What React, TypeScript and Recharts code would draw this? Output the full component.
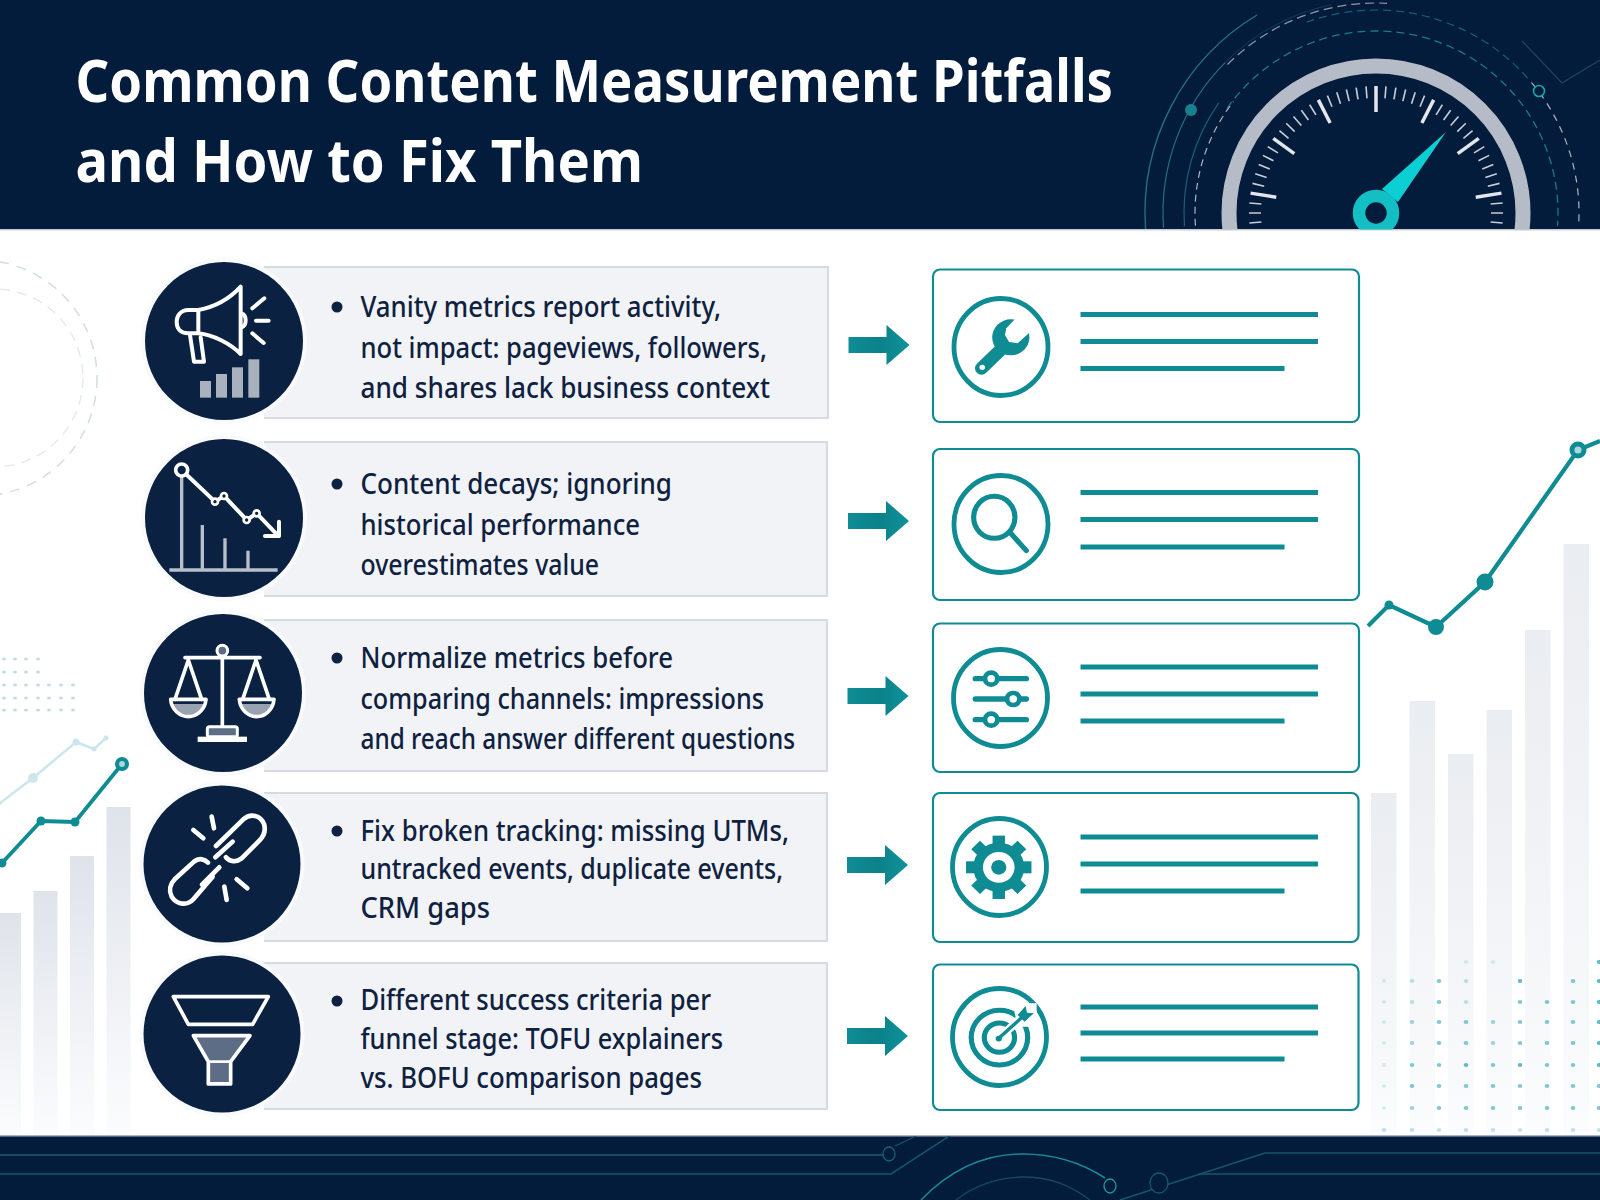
import React from "react";
import { BarChart, Bar, LineChart, Line, XAxis, YAxis } from "recharts";

const titleLines = ["Common Content Measurement Pitfalls", "and How to Fix Them"];
const pitfallLines = [
  ["Vanity metrics report activity,", "not impact: pageviews, followers,", "and shares lack business context"],
  ["Content decays; ignoring", "historical performance", "overestimates value"],
  ["Normalize metrics before", "comparing channels: impressions", "and reach answer different questions"],
  ["Fix broken tracking: missing UTMs,", "untracked events, duplicate events,", "CRM gaps"],
  ["Different success criteria per", "funnel stage: TOFU explainers", "vs. BOFU comparison pages"],
];

// background charts, values
const leftCats = ["a", "b", "c", "d"];
const leftBars = [222, 244, 279, 328];
const leftTrend = [{ x: 2, v: 272 }, { x: 41, v: 314 }, { x: 75, v: 313 }, { x: 122, v: 371 }];
const leftPale = [{ x: 0, v: 332 }, { x: 33, v: 357 }, { x: 76, v: 393 }, { x: 94, v: 386 }, { x: 106, v: 397 }];
const rightCats = ["a", "b", "c", "d", "e", "f"];
const rightBars = [342, 434, 381, 425, 505, 591];
const rightTrend = [{ x: 8, v: 509 }, { x: 29, v: 530 }, { x: 76, v: 508 }, { x: 125, v: 553 }, { x: 218, v: 685 }, { x: 240, v: 694 }];

const leftBarRows = leftCats.map((c, i) => ({ c, v: leftBars[i] }));
const rightBarRows = rightCats.map((c, i) => ({ c, v: rightBars[i] }));

const leftTrendR = [4.5, 4.5, 4.5, 7];
const leftPaleR = [2, 5, 3.5, 2.5, 2.5];
const rightTrendR = [0, 4.5, 8, 8.5, 8.5, 0];

const FONT = "'Noto Sans', sans-serif";
const NAVY = "#031c3c";
const CIRCLE = "#0a2142";
const TEAL = "#0e8b93";
const INK = "#0f2140";
const GREY = "#5c6d85";

const panels = [
  { top: 267, bottom: 418, right: 828, cx: 224, cy: 341, r: 79, bullet: 307, base: [317, 358, 398], ends: [721, 767, 770] },
  { top: 442, bottom: 596, right: 827, cx: 224, cy: 518, r: 79, bullet: 484, base: [493.5, 534.5, 574.5], ends: [672, 640, 599] },
  { top: 620, bottom: 771, right: 827, cx: 223, cy: 693, r: 79, bullet: 658, base: [667.5, 708.5, 748.5], ends: [673, 764, 795] },
  { top: 793, bottom: 941, right: 827, cx: 222, cy: 864, r: 78.5, bullet: 831, base: [841, 879, 917.5], ends: [789, 783, 490] },
  { top: 963, bottom: 1109, right: 827, cx: 222, cy: 1034, r: 78.5, bullet: 1001, base: [1010, 1049, 1088], ends: [711, 723, 702] },
];
const cards = [
  { top: 269.5, bottom: 422, left: 933, right: 1359, cx: 1001, cy: 347, lines: [314.5, 341.5, 368.5], arrow: 345, tip: 909.5 },
  { top: 449, bottom: 600, left: 933, right: 1359, cx: 1001, cy: 524, lines: [492.5, 519.5, 547], arrow: 521, tip: 909 },
  { top: 623.5, bottom: 772, left: 933, right: 1359, cx: 1000.5, cy: 698, lines: [667, 694, 721], arrow: 696, tip: 908.5 },
  { top: 793, bottom: 942, left: 933, right: 1358.5, cx: 999.5, cy: 867, lines: [837, 864, 891], arrow: 865, tip: 908 },
  { top: 964.5, bottom: 1110, left: 933, right: 1358.5, cx: 999.5, cy: 1037, lines: [1007, 1033, 1059], arrow: 1036, tip: 908 },
];

const dotRows = [962, 981, 1002, 1022, 1043, 1065, 1086, 1108, 1130];
const dotCols = [1384, 1412, 1439, 1466, 1493, 1520, 1547, 1573, 1599];
const dotMask = ["000110005", "124205045", "124204445", "134434445", "134434445", "144545445", "144444444", "134444444", "222222222"];
const leftDotRows = [659, 672, 685, 698, 710];
const leftDotCols = [4, 15, 26, 38, 49, 61, 73];
const leftDotCounts = [4, 4, 7, 7, 7];

const polar = (r: number, deg: number) => {
  const a = (deg * Math.PI) / 180;
  return [1376 + r * Math.sin(a), 213 - r * Math.cos(a)];
};
const arc = (r: number, a0: number, a1: number) => {
  const [x0, y0] = polar(r, a0);
  const [x1, y1] = polar(r, a1);
  return `M${x0} ${y0} A${r} ${r} 0 ${a1 - a0 > 180 ? 1 : 0} 1 ${x1} ${y1}`;
};
const gaugeSteps = Array.from({ length: 45 }, (_, i) => i - 22);

function trendDot(radii: number[], color: string, inner?: number) {
  return (p: any) => {
    const r = radii[p.index] ?? 0;
    if (!r) return <g key={p.index} />;
    return (
      <g key={p.index}>
        <circle cx={p.cx} cy={p.cy} r={r} fill={color} />
        {inner === p.index && <circle cx={p.cx} cy={p.cy} r={r * 0.42} fill="#a9d9dc" />}
      </g>
    );
  };
}

function BarsLayer({ left, top, width, height, max, rows, size, id, from, to }: any) {
  return (
    <div style={{ position: "absolute", left, top, width, height }}>
      <BarChart width={width} height={height} data={rows} margin={{ top: 0, right: 0, bottom: 0, left: 0 }}>
        <defs>
          <linearGradient id={id} x1="0" y1="0" x2="0" y2="1">
            <stop offset="0" stopColor={from} />
            <stop offset="0.7" stopColor={to} />
            <stop offset="1" stopColor="#fbfcfd" />
          </linearGradient>
        </defs>
        <XAxis dataKey="c" hide />
        <YAxis hide domain={[0, max]} />
        <Bar dataKey="v" fill={`url(#${id})`} barSize={size} isAnimationActive={false} />
      </BarChart>
    </div>
  );
}

function TrendLayer({ left, top, width, height, max, rows, color, sw, dot }: any) {
  return (
    <div style={{ position: "absolute", left, top, width, height }}>
      <LineChart width={width} height={height} data={rows} margin={{ top: 0, right: 0, bottom: 0, left: 0 }}>
        <XAxis dataKey="x" type="number" domain={[0, width]} hide />
        <YAxis hide domain={[0, max]} />
        <Line dataKey="v" type="linear" stroke={color} strokeWidth={sw} dot={dot} activeDot={false} isAnimationActive={false} />
      </LineChart>
    </div>
  );
}

function Header() {
  return (
    <g>
      <defs>
        <clipPath id="headClip"><rect x="0" y="0" width="1600" height="229.5" /></clipPath>
      </defs>
      <rect x="0" y="0" width="1600" height="229.5" fill={NAVY} />
      <rect x="0" y="229" width="1600" height="1.5" fill="#c9ced6" />
      <g clipPath="url(#headClip)" fill="none">
        <path d={arc(231, -94, -31)} stroke="#25707f" strokeWidth="1.4" />
        <path d={arc(213, -94, -45)} stroke="#25707f" strokeWidth="1.2" />
        <path d={arc(213, -45, -12)} stroke="#0f3554" strokeWidth="1.1" />
        <path d={arc(192, -94, -55)} stroke="#1a5f78" strokeWidth="1.2" />
        <path d={arc(181, -94, -52)} stroke="#aeb6c2" strokeWidth="1.2" strokeDasharray="7 5" />
        <path d={arc(210, -45, 3)} stroke="#8e9aa8" strokeWidth="1.2" strokeDasharray="9 5" />
        <path d={arc(182, -55, 94)} stroke="#1a7a8c" strokeWidth="1.3" strokeDasharray="8 5" />
        <path d={arc(203, -20, 50)} stroke="#175f78" strokeWidth="1.2" strokeDasharray="8 5" />
        <path d={arc(203, 50, 94)} stroke="#aeb6c2" strokeWidth="1.2" strokeDasharray="7 6" />
        <path d="M1522 41 L1562 83 L1600 60" stroke="#1e4560" strokeWidth="1.3" />
        <circle cx="1191" cy="110" r="6" fill="#17808f" />
        <circle cx="1539" cy="91" r="5.5" fill={NAVY} stroke="#19a5ad" strokeWidth="1.6" />
        <circle cx="1376" cy="213" r="147" stroke="#b5bcc7" strokeWidth="15" />
        {gaugeSteps.map((s) => {
          const major = s % 6 === 0;
          const [x0, y0] = polar(127, s * 4.5);
          const [x1, y1] = polar(major ? 101 : 115, s * 4.5);
          return <line key={s} x1={x0} y1={y0} x2={x1} y2={y1} stroke={major ? "#e3e6ea" : "#c9ced6"} strokeWidth={major ? 3.5 : 1.6} />;
        })}
        <path d="M1382 189 L1446 132 L1398 202 Z" fill="#0bcfd3" />
        <circle cx="1376" cy="213" r="17" stroke="#14bfc4" strokeWidth="12.5" />
      </g>
      {titleLines.map((t, i) => (
        <text key={t} x="75.5" y={[102, 181.5][i]} fontFamily={FONT} fontWeight="700" fontSize="60" fill="#ffffff"
          textLength={[1037.5, 567.5][i]} lengthAdjust="spacingAndGlyphs">{t}</text>
      ))}
    </g>
  );
}

function Footer() {
  return (
    <g fill="none">
      <defs>
        <clipPath id="footClip"><rect x="0" y="1136" width="1600" height="64" /></clipPath>
      </defs>
      <rect x="0" y="1136" width="1600" height="64" fill={NAVY} />
      <rect x="0" y="1135" width="1600" height="1.5" fill="#aeb5c0" />
      <g clipPath="url(#footClip)">
        <path d="M0 1155 H883" stroke="#175f75" strokeWidth="1.5" />
        <path d="M0 1174 H891 L951 1135" stroke="#15566e" strokeWidth="1.5" />
        <path d="M895 1146 L918 1135" stroke="#15566e" strokeWidth="1.1" />
        <ellipse cx="889" cy="1154" rx="6" ry="7" stroke="#175f75" strokeWidth="1.3" />
        <path d="M1120 1200 L1265 1153 H1600" stroke="#15566e" strokeWidth="1.5" />
        <path d="M1199 1174 H1600" stroke="#15566e" strokeWidth="1.3" />
        <ellipse cx="1159" cy="1183" rx="9" ry="10" fill={NAVY} stroke="#15566e" strokeWidth="1.3" />
        <path d="M921 1200 C950 1170 985 1154 1023 1154 C1060 1154 1085 1165 1105 1178" stroke="#1a8a99" strokeWidth="1.5" />
        <path d="M956 1200 C975 1185 1000 1177 1023 1177 C1050 1177 1070 1185 1090 1200" stroke="#134a62" strokeWidth="1.3" />
        <ellipse cx="1110" cy="1186" rx="6" ry="7" fill={NAVY} stroke="#1a9aa6" strokeWidth="1.3" />
      </g>
    </g>
  );
}

const darkIcon = (i: number) => {
  const w = { fill: "none", stroke: "#ffffff", strokeLinecap: "round" as const, strokeLinejoin: "round" as const };
  if (i === 0) {
    return (
      <g transform="translate(130 250) scale(0.3333)">
        <g {...w} strokeWidth="12">
          <path d="M205 180 C260 170 300 145 332 110 L332 312 C300 280 250 255 205 250 Z" />
          <path d="M205 180 H175 C150 180 140 200 140 215 C140 235 150 250 175 250 H205" />
          <path d="M180 255 L192 335 H222 L212 262" />
          <path d="M335 190 C350 195 352 225 335 232" />
          <path d="M367 175 L403 145 M378 212 H416 M367 250 L401 279" />
        </g>
        {[[210, 393], [258, 372], [306, 352], [355, 328]].map(([x, y]) => (
          <rect key={x} x={x} y={y} width="33" height={443 - y} fill="#a9b1be" />
        ))}
      </g>
    );
  }
  if (i === 1) {
    return (
      <g transform="translate(130 250) scale(0.3333)">
        <path d="M118 960 H443 M155 680 V960 M217 825 V960 M285 865 V960 M354 902 V960" stroke="#b9bfca" strokeWidth="10" fill="none" />
        <g {...w} strokeWidth="12">
          <path d="M155 660 L255 755 L282 738 L350 810 L380 790 L445 858" />
          <path d="M405 858 H447 V815" />
        </g>
        {[[255, 755], [282, 738], [350, 810], [380, 790]].map(([x, y]) => (
          <circle key={x} cx={x} cy={y} r="9" fill={CIRCLE} stroke="#fff" strokeWidth="8" />
        ))}
        <circle cx="155" cy="660" r="18" fill={CIRCLE} stroke="#fff" strokeWidth="11" />
      </g>
    );
  }
  if (i === 2) {
    return (
      <g transform="translate(130 610) scale(0.3333)">
        <path d="M122 282 H228 C222 305 200 320 175 320 C150 320 128 305 122 282Z" fill="#98a2b0" />
        <path d="M328 282 H432 C426 305 405 320 380 320 C355 320 334 305 328 282Z" fill="#98a2b0" />
        <g {...w} strokeWidth="11">
          <path d="M277 130 V350 M165 143 H390" />
          <path d="M175 150 L135 268 M175 150 L215 268 M378 150 L338 268 M378 150 L418 268" />
          <path d="M122 268 H228 C225 300 200 320 175 320 C150 320 125 300 122 268Z" />
          <path d="M328 268 H432 C429 300 405 320 380 320 C355 320 331 300 328 268Z" />
        </g>
        <rect x="232" y="350" width="90" height="30" rx="6" fill={GREY} stroke="#fff" strokeWidth="9" />
        <rect x="203" y="380" width="148" height="16" fill="#fff" />
        <circle cx="277" cy="122" r="16" fill={GREY} stroke="#fff" strokeWidth="9" />
      </g>
    );
  }
  if (i === 3) {
    return (
      <g transform="translate(130 610) scale(0.3333)">
        <g {...w} strokeWidth="14">
          <path d="M258 708 L340 628 C362 608 392 616 402 642 C408 662 400 680 388 692 L335 745 C318 758 300 755 288 742" />
          <path d="M308 695 L256 742" />
          <path d="M248 800 L190 868 C172 888 140 885 125 860 C116 842 120 822 134 808 L192 755 C208 742 224 748 234 758" />
          <path d="M268 772 L216 824" />
          <path d="M245 620 L252 655 M190 660 L220 685 M283 830 L290 870 M320 808 L352 835" />
        </g>
      </g>
    );
  }
  return (
    <g transform="translate(130 610) scale(0.3333)">
      <path d="M130 1160 H415 L368 1243 H175 Z" fill="none" stroke="#fff" strokeWidth="11" strokeLinejoin="round" />
      <path d="M190 1277 H360 L302 1355 V1422 H235 V1355 Z" fill={GREY} stroke="#fff" strokeWidth="11" strokeLinejoin="round" />
      <path d="M235 1355 H302" stroke="#fff" strokeWidth="8" />
    </g>
  );
};

const tealIcon = (i: number) => {
  const t = "translate(830 260) scale(0.3444 0.3333)";
  const t2 = "translate(830 620) scale(0.3444 0.3333)";
  if (i === 0) {
    return (
      <g transform={t}>
        <path d="M440 325 L510 255" stroke={TEAL} strokeWidth="38" strokeLinecap="round" />
        <circle cx="525" cy="232" r="54" fill={TEAL} />
        <path d="M548 165 L598 200 L545 250 L520 246 L508 225 L512 205 Z" fill="#fff" />
        <circle cx="442" cy="322" r="8" fill="#fff" />
      </g>
    );
  }
  if (i === 1) {
    return (
      <g transform={t} fill="none" stroke={TEAL} strokeWidth="15" strokeLinecap="round">
        <ellipse cx="477" cy="772" rx="60" ry="63" />
        <path d="M525 820 L570 872" />
      </g>
    );
  }
  if (i === 2) {
    return (
      <g transform={t2}>
        {[[176, 468], [237, 532], [299, 468]].map(([y, x]) => (
          <g key={y}>
            <path d={`M422 ${y} H570`} stroke={TEAL} strokeWidth="16" strokeLinecap="round" />
            <ellipse cx={x} cy={y} rx="18" ry="18" fill="#fff" stroke={TEAL} strokeWidth="14" />
          </g>
        ))}
      </g>
    );
  }
  if (i === 3) {
    return (
      <g transform={t2}>
        {[0, 45, 90, 135].map((a) => (
          <g key={a} transform={`rotate(${a} 490 742)`}>
            <rect x="472" y="647" width="36" height="190" fill={TEAL} />
          </g>
        ))}
        <circle cx="490" cy="742" r="74" fill={TEAL} />
        <circle cx="490" cy="742" r="46" fill="#fff" />
        <circle cx="490" cy="742" r="22" fill={TEAL} />
      </g>
    );
  }
  return (
    <g transform={t2} fill="none">
      <circle cx="492" cy="1253" r="82" stroke={TEAL} strokeWidth="15" />
      <circle cx="492" cy="1253" r="44" stroke={TEAL} strokeWidth="15" />
      <path d="M530 1150 L600 1150 L600 1220 L545 1220 Z" fill="#fff" />
      <path d="M490 1255 L565 1185" stroke="#fff" strokeWidth="24" />
      <circle cx="490" cy="1256" r="9" fill={TEAL} />
      <path d="M490 1255 L565 1185" stroke={TEAL} strokeWidth="10" strokeLinecap="round" />
      <path d="M545 1185 L568 1158 L572 1178 L592 1180 L565 1205 Z" fill={TEAL} />
    </g>
  );
};

function Overlay() {
  return (
    <svg width="1600" height="1200" viewBox="0 0 1600 1200" style={{ position: "absolute", left: 0, top: 0 }}>
      <defs>
        <linearGradient id="arrowFill" x1="0" y1="0" x2="1" y2="0">
          <stop offset="0" stopColor="#0f8d96" />
          <stop offset="0.5" stopColor="#0c8189" />
          <stop offset="1" stopColor="#0f929a" />
        </linearGradient>
      </defs>
      <Header />
      <Footer />
      {panels.map((p, i) => (
        <g key={i}>
          <rect x="264" y={p.top} width={p.right - 264} height={p.bottom - p.top} fill="#f1f3f7" />
          <path d={`M264 ${p.top} H${p.right} V${p.bottom} H264`} fill="none" stroke="#d6dae1" strokeWidth="2.2" />
          <circle cx={p.cx} cy={p.cy} r={p.r + 4} fill="#f9fafc" />
          <circle cx={p.cx} cy={p.cy} r={p.r} fill={CIRCLE} />
          {darkIcon(i)}
          <circle cx="337" cy={p.bullet} r="5.5" fill={INK} />
          {pitfallLines[i].map((t, j) => (
            <text key={t} x="360.5" y={p.base[j]} fontFamily={FONT} fontWeight="500" fontSize="28.5" fill={INK}
              textLength={p.ends[j] - 360.5} lengthAdjust="spacingAndGlyphs">{t}</text>
          ))}
        </g>
      ))}
      {cards.map((c, i) => (
        <g key={i}>
          <path fill="url(#arrowFill)" d={`M${c.tip - 61} ${c.arrow - 8} H${c.tip - 23} V${c.arrow - 20} L${c.tip} ${c.arrow} L${c.tip - 23} ${c.arrow + 20} V${c.arrow + 8} H${c.tip - 61} Z`} />
          <rect x={c.left} y={c.top} width={c.right - c.left} height={c.bottom - c.top} rx="7" fill="#ffffff" fillOpacity="0.92" stroke={TEAL} strokeWidth="2.2" />
          <ellipse cx={c.cx} cy={c.cy} rx="47" ry="48.5" fill="none" stroke={TEAL} strokeWidth="4.8" />
          {tealIcon(i)}
          {c.lines.map((y, j) => (
            <line key={y} x1="1080.5" x2={j === 2 ? 1284.5 : 1318} y1={y} y2={y} stroke={TEAL} strokeWidth="5" />
          ))}
        </g>
      ))}
    </svg>
  );
}

function Decor() {
  return (
    <svg width="1600" height="1200" viewBox="0 0 1600 1200" style={{ position: "absolute", left: 0, top: 0 }}>
      <circle cx="-21" cy="378" r="118" fill="none" stroke="#d0dee8" strokeWidth="1.5" strokeDasharray="10 8" />
      <circle cx="-6" cy="378" r="89" fill="none" stroke="#e0e9ef" strokeWidth="1.3" strokeDasharray="10 7" />
      {leftDotRows.map((y, r) =>
        leftDotCols.slice(0, leftDotCounts[r]).map((x) => (
          <ellipse key={`${x}-${y}`} cx={x} cy={y} rx="2" ry="1.5" fill="#c2dce6" />
        ))
      )}
      {dotRows.map((y, r) =>
        dotCols.map((x, c) => {
          const level = Number(dotMask[r][c]);
          return level ? <ellipse key={`${x}-${y}`} cx={x} cy={y} rx="2.3" ry="2" fill="#4fb3c4" opacity={level * 0.18} /> : null;
        })
      )}
    </svg>
  );
}

export default function App() {
  return (
    <div style={{ position: "absolute", left: 0, top: 0, width: 1600, height: 1200, overflow: "hidden", background: "#ffffff" }}>
      <BarsLayer left={-9} top={700} width={146} height={435} max={435} rows={leftBarRows} size={24} id="leftFade" from="#dfe3ea" to="#f3f5f8" />
      <BarsLayer left={1364} top={435} width={231} height={700} max={700} rows={rightBarRows} size={25.5} id="rightFade" from="#eaedf1" to="#f5f7f9" />
      <Decor />
      <TrendLayer left={0} top={700} width={140} height={435} max={435} rows={leftPale} color="#cde6ee" sw={2.5} dot={trendDot(leftPaleR, "#cde6ee")} />
      <TrendLayer left={0} top={700} width={140} height={435} max={435} rows={leftTrend} color={TEAL} sw={3.8} dot={trendDot(leftTrendR, TEAL, 3)} />
      <TrendLayer left={1360} top={435} width={240} height={700} max={700} rows={rightTrend} color={TEAL} sw={4.2} dot={trendDot(rightTrendR, TEAL, 4)} />
      <Overlay />
    </div>
  );
}
